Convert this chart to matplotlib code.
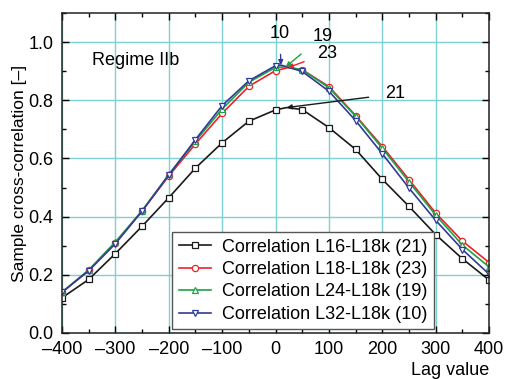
import matplotlib
matplotlib.use("Agg")
import matplotlib.pyplot as plt
from matplotlib.ticker import MultipleLocator

plt.rcParams['font.family'] = ['Liberation Sans', 'DejaVu Sans']

lags = [-400, -350, -300, -250, -200, -150, -100, -50, 0, 50, 100, 150, 200, 250, 300, 350, 400]

# sample cross-correlation
corr_l16 = [0.121, 0.184, 0.273, 0.367, 0.465, 0.567, 0.654, 0.728, 0.767, 0.768, 0.706, 0.631, 0.528, 0.435, 0.338, 0.255, 0.182]
corr_l18 = [0.140, 0.215, 0.310, 0.420, 0.540, 0.650, 0.755, 0.848, 0.902, 0.905, 0.847, 0.747, 0.641, 0.527, 0.412, 0.316, 0.242]
corr_l24 = [0.140, 0.217, 0.313, 0.420, 0.545, 0.660, 0.770, 0.862, 0.913, 0.905, 0.843, 0.745, 0.635, 0.519, 0.405, 0.302, 0.227]
corr_l32 = [0.140, 0.214, 0.307, 0.419, 0.543, 0.665, 0.782, 0.867, 0.919, 0.899, 0.831, 0.730, 0.616, 0.498, 0.387, 0.287, 0.202]

# peak lag and value for each series
peak_lag = [21, 23, 19, 10]
peak_val = [0.775, 0.912, 0.915, 0.921]

labels = ["Correlation L16-L18k (21)", "Correlation L18-L18k (23)",
          "Correlation L24-L18k (19)", "Correlation L32-L18k (10)"]
colors = ["#1a1a1a", "#ec2227", "#1ea246", "#303a9a"]
markers = ["s", "o", "^", "v"]
text_pos = [(224, 0.822), (97, 0.962), (88, 1.02), (8, 1.03)]
shrink = [10, 8, 8, 7]

fig = plt.figure(figsize=(5.09, 3.79), dpi=100)
ax = fig.add_axes([0.1218, 0.1214, 0.8392, 0.8443])

series = [corr_l16, corr_l18, corr_l24, corr_l32]
for i in range(4):
    # insert the peak point so the line passes through it (no marker there)
    x = lags[:9] + [peak_lag[i]] + lags[9:]
    y = series[i][:9] + [peak_val[i]] + series[i][9:]
    mk = [j for j in range(len(x)) if j != 9]
    ax.plot(x, y, '-', color=colors[i], marker=markers[i], markevery=mk, markersize=4.5,
            markerfacecolor='white', markeredgecolor=colors[i], markeredgewidth=0.9,
            linewidth=1.2, label=labels[i])

# annotation arrows pointing at the peaks
for i in range(4):
    ax.annotate(str(peak_lag[i]), xy=(peak_lag[i], peak_val[i]), xytext=text_pos[i], fontsize=13,
                ha='center', va='center',
                arrowprops=dict(arrowstyle='-|>', color=colors[i], lw=1.0, shrinkA=shrink[i],
                                shrinkB=0, mutation_scale=7))

ax.text(-344, 0.936, "Regime IIb", fontsize=13, ha='left', va='center')

ax.set_xlim(-400, 400)
ax.set_ylim(0, 1.1)
ax.xaxis.set_minor_locator(MultipleLocator(50))
ax.yaxis.set_minor_locator(MultipleLocator(0.1))
yt = [0.0, 0.2, 0.4, 0.6, 0.8, 1.0]
ax.set_yticks(yt)
ax.set_yticklabels([f"{v:.1f}" for v in yt])
ax.set_xticks(range(-400, 401, 100))
ax.set_xticklabels([str(v).replace('-', '\u2013') for v in range(-400, 401, 100)])
ax.tick_params(which='both', direction='in', top=True, right=True, labelsize=13)
ax.tick_params(axis='x', pad=6)
ax.tick_params(axis='y', pad=6)
ax.tick_params(which='major', length=5, width=1.0)
ax.tick_params(which='minor', length=3, width=1.0)
ax.grid(True, which='major', color='#7fd0d0', linewidth=1.0)
ax.set_axisbelow(True)
for s in ax.spines.values():
    s.set_linewidth(1.1)
    s.set_color('#222222')

ax.set_ylabel("Sample cross-correlation [\u2013]", fontsize=12.5, labelpad=1)
ax.set_xlabel("Lag value", fontsize=13, labelpad=0)
ax.xaxis.set_label_coords(1.0, -0.09)
ax.xaxis.label.set_ha('right')
ax.xaxis.label.set_va('top')

leg = ax.legend(loc='lower left', bbox_to_anchor=(0.258, 0.012), fontsize=13, fancybox=False,
                edgecolor='#555555', framealpha=1, handlelength=1.8, handletextpad=0.6,
                labelspacing=0.3, borderpad=0.35, borderaxespad=0)
leg.get_frame().set_linewidth(1.0)

fig.savefig("out.png", dpi=100)
